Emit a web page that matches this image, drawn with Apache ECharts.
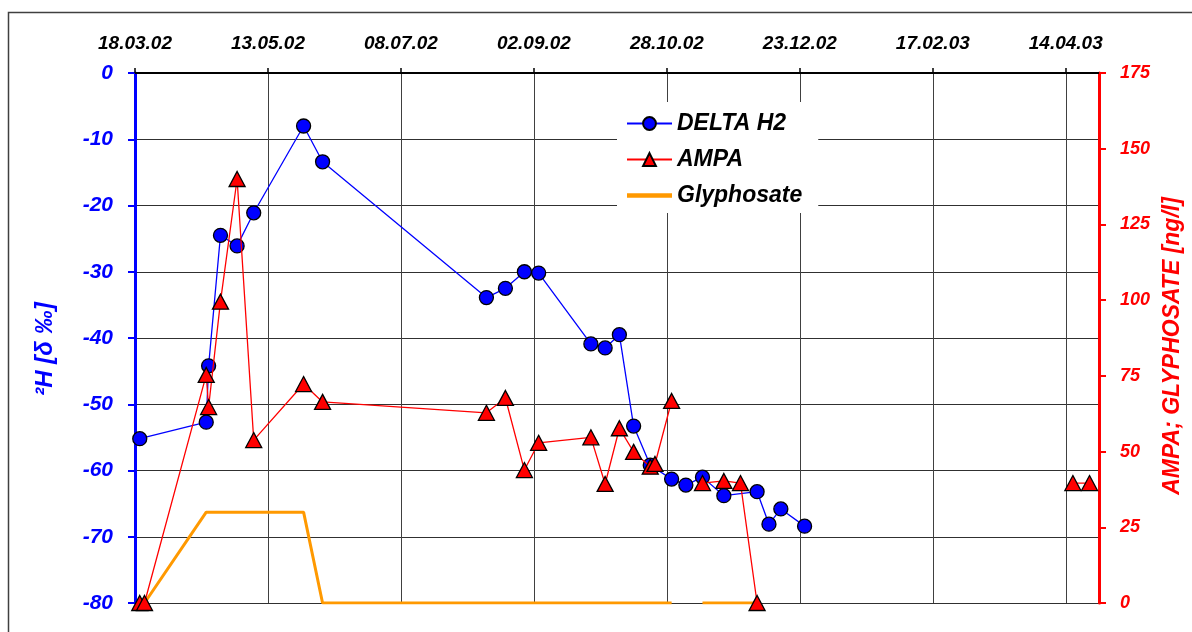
<!DOCTYPE html>
<html>
<head>
<meta charset="utf-8">
<script src="https://cdn.jsdelivr.net/npm/echarts@6/dist/echarts.min.js"></script>
<style>
  html, body { margin: 0; padding: 0; background: #fff; }
  #chart { width: 1192px; height: 632px; }
</style>
</head>
<body>
<div id="chart"></div>
<script>
// sampling dates as dd.mm.yy
const xTickLabels = ['18.03.02', '13.05.02', '08.07.02', '02.09.02', '28.10.02', '23.12.02', '17.02.03', '14.04.03'];
const xEndDate = '28.04.03';

const h2Dates = ['20.03.02', '17.04.02', '18.04.02', '23.04.02', '30.04.02', '07.05.02', '28.05.02', '05.06.02',
  '13.08.02', '21.08.02', '29.08.02', '04.09.02', '26.09.02', '02.10.02', '08.10.02', '14.10.02', '21.10.02',
  '30.10.02', '05.11.02', '12.11.02', '21.11.02', '05.12.02', '10.12.02', '15.12.02', '25.12.02'];
const h2Values = [-55.2, -52.7, -44.2, -24.5, -26.1, -21.1, -8.0, -13.4,
  -33.9, -32.5, -30.0, -30.2, -40.9, -41.5, -39.5, -53.3, -59.2,
  -61.3, -62.2, -61.0, -63.8, -63.2, -68.1, -65.8, -68.4];

const ampaDates = ['20.03.02', '22.03.02', '17.04.02', '18.04.02', '23.04.02', '30.04.02', '07.05.02', '28.05.02', '05.06.02',
  '13.08.02', '21.08.02', '29.08.02', '04.09.02', '26.09.02', '02.10.02', '08.10.02', '14.10.02', '21.10.02', '23.10.02',
  '30.10.02', '05.11.02', '12.11.02', '21.11.02', '28.11.02', '05.12.02', '25.12.02', '17.04.03', '24.04.03'];
const ampaValues = [0, 0, 75.3, 64.7, 99.5, 140, 53.8, 72.3, 66.4,
  62.8, 67.7, 43.9, 52.9, 54.7, 39.3, 57.7, 49.9, 45.0, 45.9,
  66.7, '-', 39.6, 40.3, 39.6, 0, '-', 39.6, 39.6];

const glyDates = ['22.03.02', '17.04.02', '28.05.02', '05.06.02', '13.08.02', '04.09.02', '08.10.02',
  '30.10.02', '05.11.02', '12.11.02', '05.12.02'];
const glyValues = [0, 30, 30, 0, 0, 0, 0, 0, '-', 0, 0];

function toDay(s) {
  const p = s.split('.').map(Number);
  const o = xTickLabels[0].split('.').map(Number);
  return (Date.UTC(2000 + p[2], p[1] - 1, p[0]) - Date.UTC(2000 + o[2], o[1] - 1, o[0])) / 86400000;
}
const tickDays = xTickLabels.map(toDay);
const pairs = (ds, vs) => ds.map((d, i) => [toDay(d), vs[i]]);

const font = 'Arial, "Liberation Sans", sans-serif';
const bi = { fontWeight: 'bold', fontStyle: 'italic', fontFamily: font };

const chart = echarts.init(document.getElementById('chart'));
chart.setOption({
  animation: false,
  grid: { left: 135, right: 93, top: 73, bottom: 29 },
  graphic: [{
    type: 'rect', silent: true, z: -10,
    shape: { x: 8.5, y: 12.5, width: 1300, height: 800 },
    style: { fill: 'none', stroke: '#404040', lineWidth: 1.5 }
  }],
  legend: {
    orient: 'vertical', left: 617, top: 102,
    padding: [10, 16, 6, 9], itemGap: 13,
    itemWidth: 45, itemHeight: 16,
    backgroundColor: '#fff',
    data: ['DELTA H2', 'AMPA', { name: 'Glyphosate', icon: 'path://M0,0 L10,0 L10,1 L0,1 Z' }],
    textStyle: Object.assign({ fontSize: 23, color: '#000' }, bi)
  },
  xAxis: {
    type: 'value', position: 'top',
    min: 0, max: toDay(xEndDate), interval: 56,
    axisLine: { onZero: false, lineStyle: { color: '#000', width: 2 } },
    axisTick: { customValues: tickDays, length: 5, lineStyle: { color: '#000', width: 1.5 } },
    axisLabel: Object.assign({
      customValues: tickDays, fontSize: 19, color: '#000', margin: 20,
      formatter: v => xTickLabels[tickDays.indexOf(v)] || ''
    }, bi),
    splitLine: { show: true, lineStyle: { color: '#404040', width: 1 } }
  },
  yAxis: [{
    type: 'value', position: 'left',
    min: -80, max: 0, interval: 10,
    name: '²H [δ ‰]', nameLocation: 'middle', nameRotate: 90, nameGap: 78,
    nameTextStyle: Object.assign({ fontSize: 24, color: '#0000ff', padding: [0, 22, 0, 0] }, bi),
    axisLine: { show: true, onZero: false, lineStyle: { color: '#0000ff', width: 3 } },
    axisTick: { show: true, length: 7, lineStyle: { color: '#0000ff', width: 2 } },
    axisLabel: Object.assign({ fontSize: 21, color: '#0000ff', margin: 22 }, bi),
    splitLine: { show: true, lineStyle: { color: '#303030', width: 1 } }
  }, {
    type: 'value', position: 'right',
    min: 0, max: 175, interval: 25,
    name: 'AMPA; GLYPHOSATE [ng/l]', nameLocation: 'middle', nameRotate: 90, nameGap: 62,
    nameTextStyle: Object.assign({ fontSize: 23, color: '#ff0000', padding: [0, 16, 0, 0] }, bi),
    axisLine: { show: true, onZero: false, lineStyle: { color: '#ff0000', width: 3 } },
    axisTick: { show: true, length: 7, lineStyle: { color: '#ff0000', width: 2 } },
    axisLabel: Object.assign({ fontSize: 18, color: '#ff0000', margin: 21 }, bi),
    splitLine: { show: false }
  }],
  series: [{
    name: 'DELTA H2', type: 'line', yAxisIndex: 0, z: 3,
    data: pairs(h2Dates, h2Values),
    symbol: 'circle', symbolSize: 14,
    lineStyle: { color: '#0000ff', width: 1.3 },
    itemStyle: { color: '#0000ff', borderColor: '#000', borderWidth: 1.3 }
  }, {
    name: 'AMPA', type: 'line', yAxisIndex: 1, z: 4,
    data: pairs(ampaDates, ampaValues),
    symbol: 'triangle', symbolSize: [16, 15],
    lineStyle: { color: '#ff0000', width: 1.3 },
    itemStyle: { color: '#ff0000', borderColor: '#000', borderWidth: 1.3 }
  }, {
    name: 'Glyphosate', type: 'line', yAxisIndex: 1, z: 2,
    data: pairs(glyDates, glyValues),
    symbol: 'none', showSymbol: false,
    lineStyle: { color: '#ff9900', width: 3 },
    itemStyle: { color: '#ff9900', borderWidth: 0 }
  }]
});
</script>
</body>
</html>
